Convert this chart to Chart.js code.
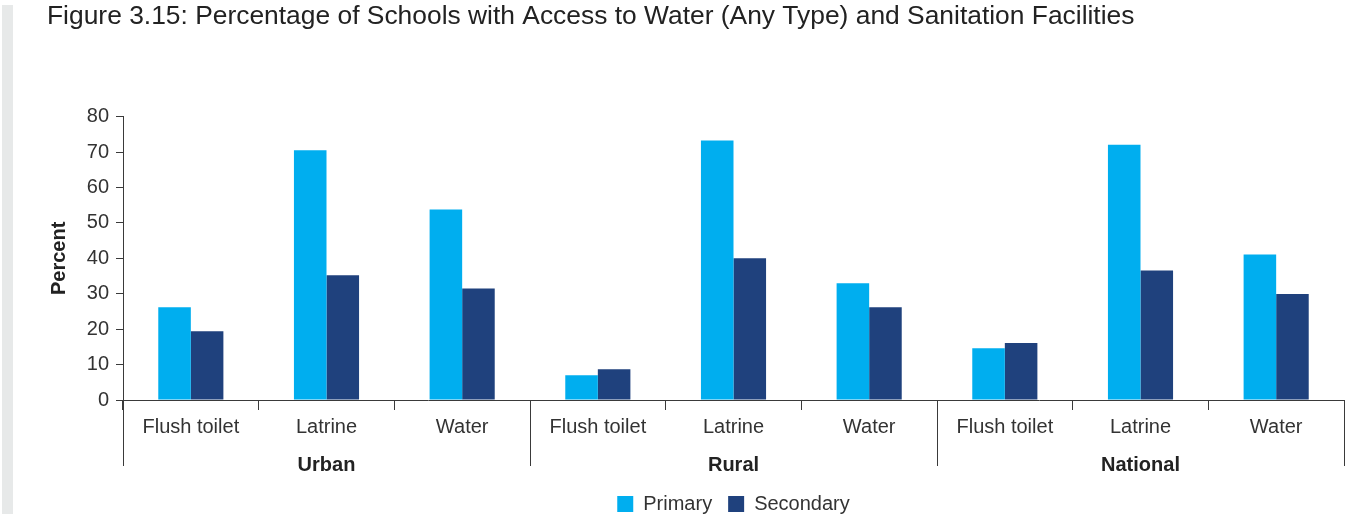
<!DOCTYPE html>
<html>
<head>
<meta charset="utf-8">
<script src="https://cdn.jsdelivr.net/npm/chart.js@4/dist/chart.umd.min.js"></script>
<style>
  html, body { margin: 0; padding: 0; background: #fff; }
  #wrap { position: relative; width: 1345px; height: 514px; }
</style>
</head>
<body>
<div id="wrap"><canvas id="chart"></canvas></div>
<script>
// ── data ──
const categories = ['Flush toilet', 'Latrine', 'Water', 'Flush toilet', 'Latrine', 'Water', 'Flush toilet', 'Latrine', 'Water'];
const groups = ['Urban', 'Rural', 'National'];
const primary   = [26.2, 70.5, 53.8, 7.0, 73.3, 33.0, 14.6, 72.1, 41.1];
const secondary = [19.4, 35.2, 31.5, 8.7, 40.0, 26.2, 16.1, 36.6, 29.9];
const yTicks = [0, 10, 20, 30, 40, 50, 60, 70, 80];

const FONT = '"Liberation Sans", Arial, Helvetica, sans-serif';
const AXIS = '#3a3a3a';

// gray strip on the left + group separators and labels under the axis
const groupPlugin = {
    id: 'groupAxis',
    beforeDraw(chart) {
        const ctx = chart.ctx;
        ctx.save();
        ctx.fillStyle = '#e7e9e9';
        ctx.fillRect(2, 5, 11, chart.height - 5);
        ctx.restore();
    },
    afterDraw(chart) {
        const x = chart.scales.x;
        const ctx = chart.ctx;
        const bottom = chart.chartArea.bottom;
        const step = x.getPixelForTick(1) - x.getPixelForTick(0);
        const per = categories.length / groups.length;
        ctx.save();
        ctx.strokeStyle = AXIS;
        ctx.lineWidth = 1;
        for (let g = 0; g <= groups.length; g++) {
            const idx = g * per;
            const px = Math.round(idx < categories.length ? x.getPixelForTick(idx) - step / 2 : x.getPixelForTick(idx - 1) + step / 2) + 0.5;
            ctx.beginPath();
            ctx.moveTo(px, bottom);
            ctx.lineTo(px, bottom + 66);
            ctx.stroke();
        }
        ctx.fillStyle = '#222';
        ctx.font = 'bold 20px ' + FONT;
        ctx.textAlign = 'center';
        ctx.textBaseline = 'alphabetic';
        groups.forEach((name, g) => {
            const cx = x.getPixelForTick(g * per + (per - 1) / 2);
            ctx.fillText(name, cx, bottom + 71);
        });
        ctx.restore();
    }
};

new Chart(document.getElementById('chart'), {
    type: 'bar',
    data: {
        labels: categories,
        datasets: [
            { label: 'Primary', data: primary, backgroundColor: '#00aeef', categoryPercentage: 0.48, barPercentage: 1.0 },
            { label: 'Secondary', data: secondary, backgroundColor: '#1f417d', categoryPercentage: 0.48, barPercentage: 1.0 }
        ]
    },
    options: {
        responsive: true,
        maintainAspectRatio: false,
        animation: false,
        layout: { padding: { left: 47, right: 1, top: 0, bottom: -10 } },
        plugins: {
            title: {
                display: true,
                text: 'Figure 3.15: Percentage of Schools with Access to Water (Any Type) and Sanitation Facilities',
                align: 'start',
                color: '#222',
                font: { family: FONT, size: 26.4, weight: 'normal' },
                padding: { top: 1, bottom: 84 }
            },
            legend: {
                position: 'bottom',
                fullSize: false,
                labels: {
                    boxWidth: 16, boxHeight: 16, padding: 16,
                    color: '#333',
                    font: { family: FONT, size: 20 }
                }
            },
            tooltip: { enabled: false }
        },
        scales: {
            x: {
                grid: { offset: true, drawOnChartArea: false, tickLength: 10, color: AXIS },
                border: { color: AXIS },
                ticks: { color: '#333', font: { family: FONT, size: 20 }, padding: 5, maxRotation: 0, autoSkip: false },
                afterFit(scale) { scale.height = 78; }
            },
            y: {
                min: 0, max: 80,
                afterBuildTicks(scale) { scale.ticks = yTicks.map(v => ({ value: v })); },
                grid: { drawOnChartArea: false, tickLength: 7, color: AXIS },
                border: { color: AXIS },
                ticks: { color: '#333', font: { family: FONT, size: 20 }, padding: 7 },
                title: { display: true, text: 'Percent', color: '#222', font: { family: FONT, size: 20, weight: 'bold' }, padding: { top: 0, bottom: 0 } },
                afterFit(scale) { scale.width = 76; }
            }
        }
    },
    plugins: [groupPlugin]
});
</script>
</body>
</html>
